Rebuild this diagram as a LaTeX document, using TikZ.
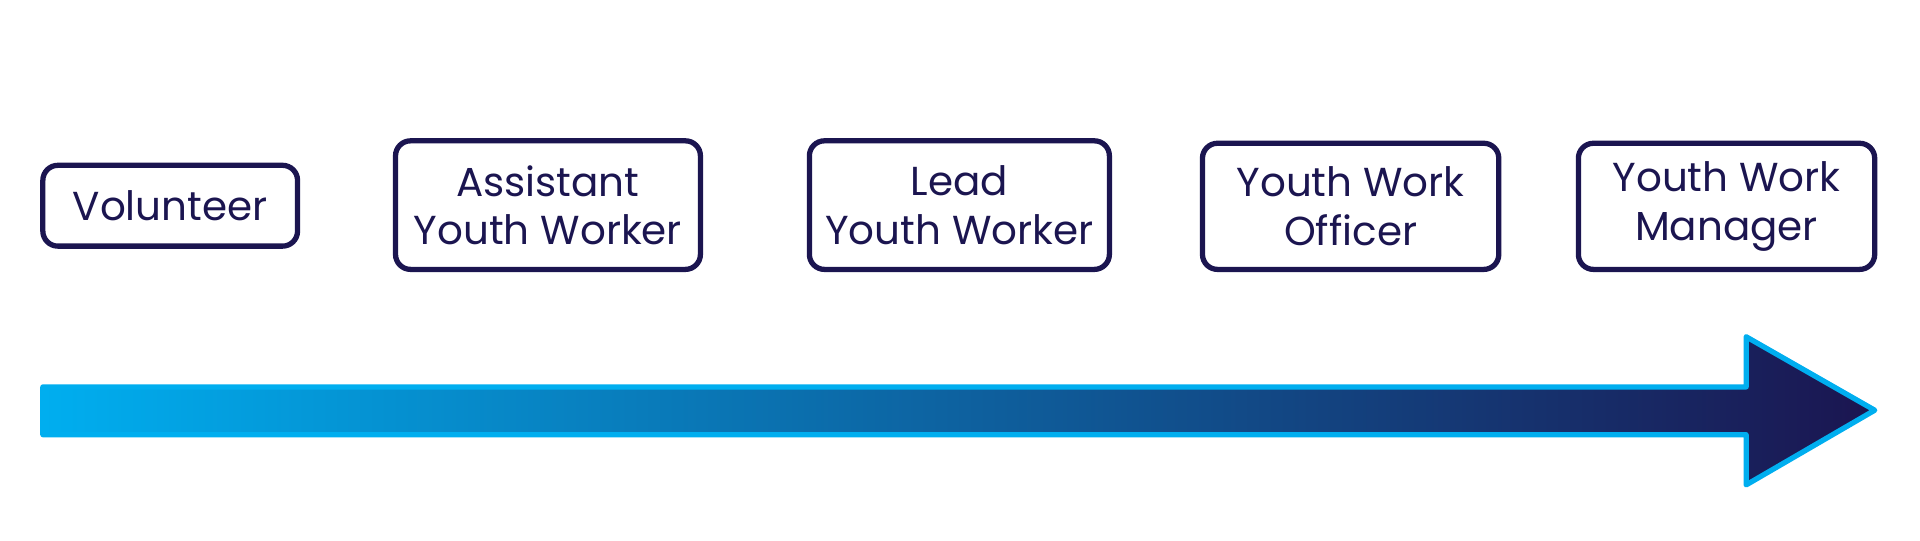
\documentclass[tikz,border=0pt]{standalone}
\usepackage{fontspec}
\setmainfont{Poppins}
\definecolor{navy}{HTML}{1B1550}
\definecolor{cyanc}{HTML}{00AEEF}
\tikzset{
  stagebox/.style={draw=navy, line width=1.5pt, rounded corners=0.15cm, text=navy,
    align=center, inner sep=0pt, font=\fontsize{11.5}{13.8}\selectfont},
}
\begin{document}
\begin{tikzpicture}[x=0.012245cm,y=-0.012245cm]
\useasboundingbox (0,0) rectangle (1568,441);
\node[stagebox, minimum width={208*0.012245cm}, minimum height={66*0.012245cm}] (vol) at (139,168) {Volunteer};
\node[stagebox, minimum width={249*0.012245cm}, minimum height={105*0.012245cm}] (ayw) at (447.5,167.5) {Assistant\\Youth Worker};
\node[stagebox, minimum width={245*0.012245cm}, minimum height={105*0.012245cm}] (lyw) at (783.5,167.5) {Lead\\Youth Worker};
\node[stagebox, minimum width={242*0.012245cm}, minimum height={103*0.012245cm}] (ywo) at (1103,168.5) {Youth Work\\Officer};
\node[stagebox, minimum width={242*0.012245cm}, minimum height={103*0.012245cm}] (ywm) at (1410,168.5) {Youth Work\\Manager};
\draw[draw=cyanc, line width=1.5pt, line join=round, left color=cyanc, right color=navy]
  (35,316) -- (1426,316) -- (1426,275) -- (1531,335) -- (1426,396) -- (1426,355) -- (35,355) -- cycle;
\end{tikzpicture}
\end{document}
